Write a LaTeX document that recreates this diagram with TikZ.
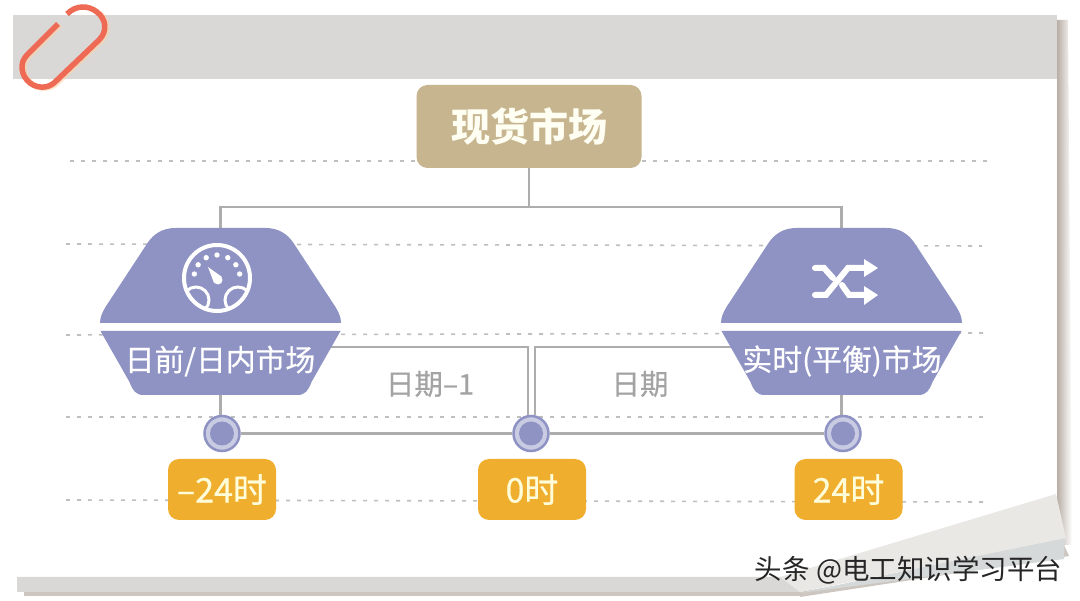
\documentclass[tikz,border=0pt]{standalone}
\usepackage{fontspec}
\setmainfont{Noto Sans CJK SC}
\newfontfamily\medfont[FakeBold=0.5]{Noto Sans CJK SC}
\usetikzlibrary{positioning,arrows.meta,calc}
\definecolor{marketblue}{HTML}{8F93C4}
\definecolor{ringblue}{HTML}{C9CBE2}
\definecolor{spotgold}{HTML}{C7B58F}
\definecolor{hourgold}{HTML}{EFAE2D}
\definecolor{headgray}{HTML}{D9D8D6}
\definecolor{wiregray}{HTML}{ADADAD}
\definecolor{clipred}{HTML}{EE6A55}
\definecolor{foldlight}{HTML}{E9E8E5}
\definecolor{foldunder}{HTML}{D6D9D9}
\definecolor{edgegray}{HTML}{B8AEA5}
\tikzset{
x=1pt,y=-1pt,
on grid,
every node/.style={align=center,inner sep=0pt},
wire/.style={draw=wiregray,line width=2.3pt},
guide/.style={draw=black!25,line width=1.6pt,dash pattern=on 4pt off 7pt},
marketbox/.style={minimum width=241pt,minimum height=167pt},
marketlabel/.style={text=white,font=\fontsize{29.8}{30}\medfont},
datelabel/.style={text=black!36,font=\fontsize{28.5}{29}\medfont},
spotbox/.style={fill=spotgold,rounded corners=11pt,minimum width=225pt,minimum height=83pt,text=white!95!yellow,font=\fontsize{39}{39}\selectfont\bfseries},
timedot/.style={circle,draw=marketblue,line width=2.5pt,fill=ringblue,minimum size=35pt,
  path picture={\fill[marketblue] (path picture bounding box.center) circle (12);}},
hourbox/.style={fill=hourgold,rounded corners=11pt,minimum width=108pt,minimum height=61pt,text=white!85!yellow,font=\fontsize{34}{34}\medfont}
}
% the market shape, centred on x=0, split by a white gap
\newcommand\marketshape[1]{
  \begin{scope}[shift={(#1,0)}]
    \fill[marketblue] (-120.5,323) .. controls (-120.5,317) and (-118,312) .. (-115,307) -- (-73,243)
      .. controls (-67,234) and (-58,228) .. (-45,228) -- (45,228)
      .. controls (58,228) and (67,234) .. (73,243) -- (115,307)
      .. controls (118,312) and (120.5,317) .. (120.5,323) -- cycle;
    \fill[marketblue] (-120,331) -- (120,331) -- (91,382) .. controls (88,390) and (85,395) .. (77,395)
      -- (-77,395) .. controls (-85,395) and (-88,390) .. (-91,382) -- cycle;
  \end{scope}
}
\begin{document}
\begin{tikzpicture}
\useasboundingbox (0,0) rectangle (1080,601);
\fill[white] (0,0) rectangle (1080,601);
% paper
\shade[left color=edgegray,right color=white] (1057,20) -- (1068,20) -- (1072,545) -- (1057,545) -- cycle;
\fill[headgray] (13,15) rectangle (1057,79);
\fill[edgegray!70] (24,590) rectangle (800,596);
\fill[headgray] (17,577) -- (840,577) -- (800,592) -- (17,592) -- cycle;
\fill[edgegray!70] (1064,545) -- (1069,556) -- (800,597) -- (800,592) -- cycle;
\fill[foldunder] (1065,537) -- (1064,559) -- (800,593) -- cycle;
\fill[foldlight] (1056,494) -- (1066,538) -- (800,592) -- (780,577) -- cycle;
% paper clip
\draw[orange!35,line width=5.5pt,opacity=.6] (60,25) -- (29,56) .. controls (21,64) and (23,77) .. (32,84) .. controls (40,90) and (50,89) .. (56,84) -- (101,41) .. controls (110,32) and (108,20) .. (99,13);
\draw[clipred,line width=5.5pt] (58,24) -- (27,55) .. controls (19,63) and (21,76) .. (30,83) .. controls (38,89) and (48,88) .. (54,83) -- (99,40) .. controls (108,31) and (106,19) .. (97,12) .. controls (88,5) and (76,5) .. (67,14);
% guide lines
\draw[guide] (70,161) -- (988,161);
\draw[guide] (66,244) -- (982,246);
\draw[guide] (66,335) -- (985,333);
\draw[guide] (66,417) -- (988,417);
\draw[guide] (66,500) -- (985,502);
% nodes
\node[spotbox] (spot) at (529,126.5) {现货市场};
\node[marketbox] (dayahead) at (220.5,311.5) {};
\node[marketbox] (realtime) [right=621pt of dayahead] {};
\node[timedot] (dotprev) at (222,433.5) {};
\node[timedot] (dotzero) [right=309pt of dotprev] {};
\node[timedot] (dotnext) [right=312pt of dotzero] {};
\coordinate[below=39pt of spot.south] (fork);
\coordinate (dateleft) at (528,347);
\coordinate (dateright) at (535,347);
% connectors
\draw[wire] (spot.south) -- (fork);
\draw[wire] (dayahead.north) |- (fork);
\draw[wire] (realtime.north) |- (fork);
\draw[wire] (dayahead.center |- dateleft) -- (dateleft) -- (dateleft |- dotzero.north);
\draw[wire] (realtime.center |- dateright) -- (dateright) -- (dateright |- dotzero.north);
\draw[wire,line width=3pt] (dayahead.south) -- (dayahead.south |- dotprev.north);
\draw[wire,line width=3pt] (realtime.south) -- (realtime.south |- dotnext.north);
\draw[wire,line width=3pt] (dotprev) -- (dotzero);
\draw[wire,line width=3pt] (dotzero) -- (dotnext);
\marketshape{220.5}
\marketshape{841.5}
% gauge icon
\begin{scope}[shift={(217,278)}]
  \begin{scope}
    \clip (0,0) circle (34);
    \draw[white,line width=3pt] (-21,22) circle (13);
    \draw[white,line width=3pt] (21,22) circle (13);
  \end{scope}
  \draw[white,line width=4pt] (0,0) circle (33);
  \foreach \a in {10,35,62,90,118,145,170}
    \fill[white] (-\a:23) circle (2.7);
  \fill[white] (-9,-11) -- (-3,5) -- (5,-1) -- cycle;
  \fill[white] (1,2) circle (4.5);
\end{scope}
% shuffle icon
\begin{scope}[white,line width=6pt]
  \draw[line cap=round] (815,268) -- (824,268) -- (833,278);
  \draw[line cap=round] (815,295) -- (826,295) -- (848,268) -- (865,268);
  \draw[line cap=round] (842,285) -- (849,295) -- (865,295);
  \fill (864,259) -- (878,268) -- (864,277) -- cycle;
  \fill (864,286) -- (878,295) -- (864,305) -- cycle;
\end{scope}
% labels
\node[marketlabel] (dayaheadtext) at (220,361) {日前/日内市场};
\node[marketlabel] (realtimetext) at (842,361) {实时(平衡)市场};
\node[datelabel] (dateprev) at (430,384) {日期–1};
\node[datelabel] (datesame) at (640,384) {日期};
\node[hourbox] (hourprev) [below=56pt of dotprev] {–24时};
\node[hourbox] (hourzero) [below=56pt of dotzero,xshift=1pt] {0时};
\node[hourbox] (hournext) [below=56pt of dotnext,xshift=5.5pt] {24时};
\node[text=black!85,font=\fontsize{27.5}{28}\selectfont] (mark) at (908.5,570) {头条 @电工知识学习平台};
\end{tikzpicture}
\end{document}
